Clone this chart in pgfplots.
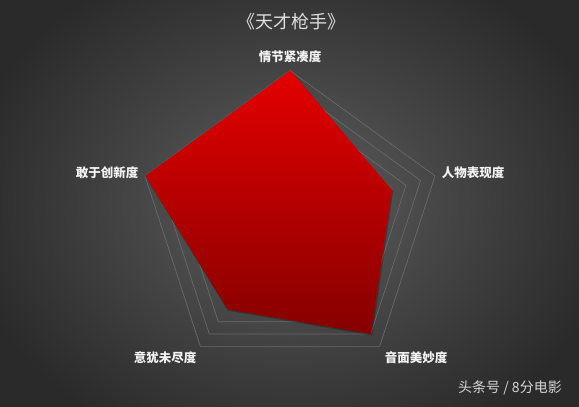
\documentclass[border=0pt]{standalone}
\usepackage{fontspec}
\setmainfont{Noto Sans CJK SC}
\usepackage{pgfplots}
\pgfplotsset{compat=1.18}
\usepgfplotslibrary{polar}
\definecolor{bgin}{HTML}{5E5E5E}
\definecolor{bgout}{HTML}{2A2A2A}
\definecolor{ring}{HTML}{6A6A6A}
\definecolor{redtop}{HTML}{E40000}
\definecolor{redmid}{HTML}{C80000}
\definecolor{redbot}{HTML}{860000}
\definecolor{lbl}{HTML}{F2F2F2}
\begin{document}
\begin{tikzpicture}[x=1bp,y=1bp]
\path[use as bounding box] (0,0) rectangle (579,406);
\shade[inner color=bgin, outer color=bgout] (-40,-60) rectangle (619,466);
\begin{polaraxis}[
    at={(290bp,183bp)}, anchor=origin,
    scale only axis, width=305bp, height=305bp,
    ymin=0, ymax=10, xmin=0, xmax=360,
    hide axis, clip=false,
]
% pentagon grid rings
\addplot[ring, line width=0.7pt] coordinates {(90,10) (18,10) (306,10) (234,10) (162,10) (90,10)};
\addplot[ring, line width=0.7pt] coordinates {(90,9) (18,9) (306,9) (234,9) (162,9) (90,9)};
\addplot[ring, line width=0.7pt] coordinates {(90,8) (18,8) (306,8) (234,8) (162,8) (90,8)};
% shadow
\addplot[draw=none, fill=black, fill opacity=0.25, shift={(1.5bp,-1.5bp)}] coordinates {
    (90,10) (18,7) (306,9) (234,7) (162,10) (90,10)};
% scores
\addplot[draw=none, top color=redtop, middle color=redmid, bottom color=redbot] coordinates {
    (90,10) (18,7) (306,9) (234,7) (162,10) (90,10)};
\end{polaraxis}
\begin{scope}[font=\fontsize{12.5bp}{14bp}\selectfont\bfseries, text=lbl]
\node at (290,349) {情节紧凑度};
\node at (473,233) {人物表现度};
\node at (416,48) {音面美妙度};
\node at (165,48) {意犹未尽度};
\node at (107,233) {敢于创新度};
\end{scope}
\node[text=lbl!92!black, font=\fontsize{18bp}{20bp}\selectfont] at (291,384) {《天才枪手》};
\node[text=lbl!88!black, font=\fontsize{14bp}{16bp}\selectfont] at (510,18) {头条号 / 8分电影};
\end{tikzpicture}
\end{document}
